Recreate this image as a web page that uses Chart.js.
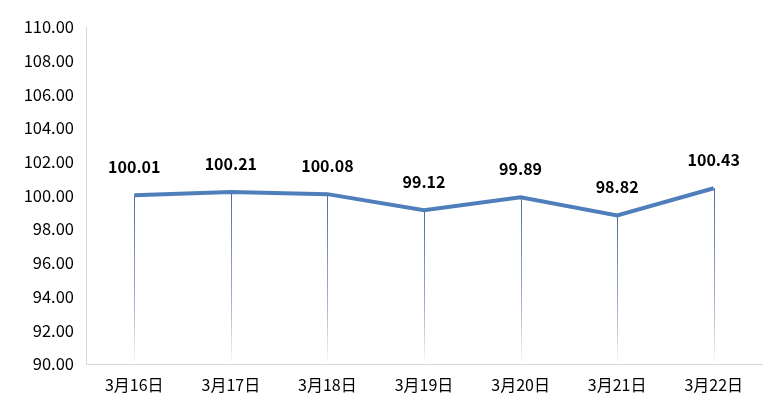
<!DOCTYPE html>
<html>
<head>
<meta charset="utf-8">
<script src="https://cdn.jsdelivr.net/npm/chart.js@4"></script>
<style>
  html, body { margin: 0; padding: 0; background: #fff; }
  #wrap { width: 784px; height: 409px; }
</style>
</head>
<body>
<div id="wrap"><canvas id="lineChart" width="784" height="409"></canvas></div>
<script>
// ── Data ──────────────────────────────────────────────────────────────────────
const dates  = ["3月16日", "3月17日", "3月18日", "3月19日", "3月20日", "3月21日", "3月22日"];
const values = [100.01, 100.21, 100.08, 99.12, 99.89, 98.82, 100.43];
const yMin = 90, yMax = 110, yStep = 2;

const FONT = "'Noto Sans CJK SC', 'Noto Sans', sans-serif";
const LINE_COLOR = "#4f7fba";

// ── Drop lines from each point down to the x axis, fading out ─────────────────
const dropLines = {
    id: "dropLines",
    beforeDatasetsDraw(chart) {
        const ctx = chart.ctx;
        const bottom = chart.chartArea.bottom;
        chart.getDatasetMeta(0).data.forEach(pt => {
            const grad = ctx.createLinearGradient(0, pt.y, 0, bottom);
            grad.addColorStop(0, "rgba(80,105,145,1)");
            grad.addColorStop(0.6, "rgba(130,155,190,0.8)");
            grad.addColorStop(1, "rgba(255,255,255,1)");
            ctx.save();
            ctx.strokeStyle = grad;
            ctx.lineWidth = 1;
            ctx.beginPath();
            ctx.moveTo(Math.round(pt.x) + 0.5, pt.y);
            ctx.lineTo(Math.round(pt.x) + 0.5, bottom);
            ctx.stroke();
            ctx.restore();
        });
    }
};

// ── Value labels above points ─────────────────────────────────────────────────
const valueLabels = {
    id: "valueLabels",
    afterDatasetsDraw(chart) {
        const ctx = chart.ctx;
        const ds = chart.data.datasets[0];
        ctx.save();
        ctx.font = "bold 16px " + FONT;
        ctx.fillStyle = "#000";
        ctx.textAlign = "center";
        ctx.textBaseline = "middle";
        chart.getDatasetMeta(0).data.forEach((pt, i) => {
            ctx.fillText(ds.data[i].toFixed(2), pt.x, pt.y - 28);
        });
        ctx.restore();
    }
};

new Chart(document.getElementById("lineChart"), {
    type: "line",
    data: {
        labels: dates,
        datasets: [{
            data: values,
            borderColor: LINE_COLOR,
            borderWidth: 4,
            pointRadius: 0,
            tension: 0,
            fill: false,
        }],
    },
    options: {
        responsive: false,
        animation: false,
        layout: { padding: { top: 27, right: 22, bottom: 0, left: 0 } },
        plugins: {
            legend:  { display: false },
            tooltip: { enabled: false },
        },
        scales: {
            x: {
                offset: true,
                grid: { display: false, drawTicks: false },
                border: { color: "#d9d9d9", width: 1 },
                ticks: { color: "#000", padding: 11, font: { family: FONT, size: 16 }, maxRotation: 0 },
                afterFit(scale) { scale.height = 45; },
            },
            y: {
                min: yMin,
                max: yMax,
                grid: { display: false, drawTicks: false },
                border: { color: "#d9d9d9", width: 1 },
                ticks: {
                    stepSize: yStep,
                    color: "#000",
                    padding: 12,
                    font: { family: FONT, size: 16.5 },
                    callback: v => Number(v).toFixed(2),
                },
                afterFit(scale) { scale.width = 86; },
            },
        },
    },
    plugins: [dropLines, valueLabels],
});
</script>
</body>
</html>
